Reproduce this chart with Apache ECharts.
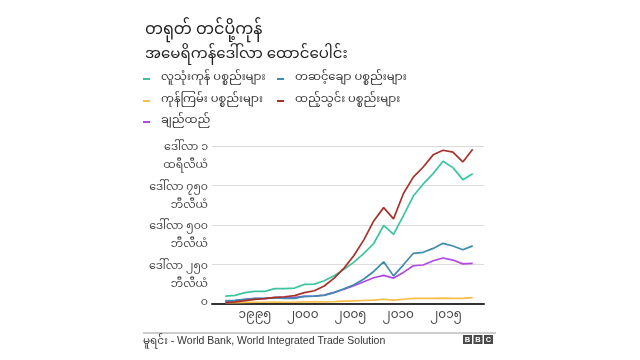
<!DOCTYPE html>
<html><head><meta charset="utf-8">
<script src="https://cdn.jsdelivr.net/npm/echarts@6.0.0/dist/echarts.min.js"></script>
<style>html,body{margin:0;padding:0;background:#fff}#c{width:640px;height:360px}</style>
</head><body><div id="c"></div>
<script>
const years = [1992,1993,1994,1995,1996,1997,1998,1999,2000,2001,2002,2003,2004,2005,2006,2007,2008,2009,2010,2011,2012,2013,2014,2015,2016,2017];
const consumerGoods = [50,55,72,80,80,97,97,101,124,126,147,179,219,265,320,383,497,440,560,683,760,825,903,863,787,825];
const intermediateGoods = [21,23,29,36,36,38,36,36,48,50,55,72,97,122,158,206,267,178,248,321,327,352,384,367,343,368];
const rawMaterials = [8,9,10,11,11,12,11,11,13,13,13,15,18,20,22,24,30,24,30,35,35,36,37,36,35,40];
const capitalGoods = [8,13,21,29,34,42,46,53,72,84,114,164,227,307,406,526,610,539,699,803,867,944,973,961,899,979];
const textiles = [17,21,29,34,36,40,40,42,48,50,57,74,93,116,141,166,181,164,200,242,247,274,291,278,254,257];

const seriesNames = ['လူသုံးကုန် ပစ္စည်းများ','တဆင့်ချော ပစ္စည်းများ','ကုန်ကြမ်း ပစ္စည်းများ','ထည့်သွင်း ပစ္စည်းများ','ချည်ထည်'];
const xTickYears = [1995,2000,2005,2010,2015];
const xTickLabels = ['၁၉၉၅','၂၀၀၀','၂၀၀၅','၂၀၁၀','၂၀၁၅'];
const yTickValues = [0,250,500,750,1000];
const yTickLabels = ['၀','ဒေါ်လာ ၂၅၀\nဘီလီယံ','ဒေါ်လာ ၅၀၀\nဘီလီယံ','ဒေါ်လာ ၇၅၀\nဘီလီယံ','ဒေါ်လာ ၁\nထရီလီယံ'];
const titleText = 'တရုတ် တင်ပို့ကုန်';
const subtitleText = 'အမေရိကန်ဒေါ်လာ ထောင်ပေါင်း';
const sourceText = 'မူရင်း - World Bank, World Integrated Trade Solution';

const FONT = "'Noto Sans Myanmar','Padauk','Myanmar Text','Noto Sans',sans-serif";
const colors = {green:'#3cc4a0', blue:'#3f8bad', orange:'#f9be45', red:'#a8312a', purple:'#b347e6'};

const chart = echarts.init(document.getElementById('c'), null, {renderer:'canvas'});
const zip = arr => years.map((y,i)=>[y, arr[i]]);
function legendAt(name, left, top){
  return {show:true, data:[name], left:left, top:top, padding:0, orient:'vertical', icon:'rect', itemWidth:7, itemHeight:2,
    textStyle:{fontSize:11.5, color:'#333', fontFamily:FONT, lineHeight:16, padding:[0,0,0,6]}, selectedMode:false};
}
const option = {
  animation:false,
  backgroundColor:'#fff',
  textStyle:{fontFamily:FONT},
  title:[
    {text:titleText, left:145, top:24, padding:0, textStyle:{fontSize:16, fontWeight:'normal', color:'#222', fontFamily:FONT}},
    {text:subtitleText, left:145, top:49, padding:0, textStyle:{fontSize:15, fontWeight:'normal', color:'#222', fontFamily:FONT}}
  ],
  legend:[
    legendAt(seriesNames[0],143,71),
    legendAt(seriesNames[2],143,93),
    legendAt(seriesNames[4],143,114),
    legendAt(seriesNames[1],277,71),
    legendAt(seriesNames[3],277,93)
  ],
  grid:{left:212, top:146, width:272, height:158, containLabel:false},
  xAxis:[
    {type:'value', min:1990.66, max:2018.14, axisLine:{show:true, onZero:true, lineStyle:{color:'#333', width:2}},
      axisTick:{show:false}, axisLabel:{show:false}, splitLine:{show:false}},
    {type:'value', position:'bottom', min:1990.5, max:2018.98, axisLine:{show:false}, axisTick:{show:false}, splitLine:{show:false},
      axisLabel:{show:true, customValues:xTickYears, margin:7, fontSize:12, color:'#444', fontFamily:FONT,
        formatter:v=>xTickLabels[xTickYears.indexOf(v)]}}
  ],
  yAxis:[
    {type:'value', min:0, max:1000, interval:250,
      axisLine:{show:false}, axisTick:{show:false}, axisLabel:{show:false},
      splitLine:{show:true, lineStyle:{color:'#dcdcdc', width:1}}},
    {type:'category', data:yTickLabels, boundaryGap:false, position:'left',
      axisLine:{show:false}, axisTick:{show:false}, splitLine:{show:false},
      axisLabel:{interval:0, margin:4, fontSize:11, color:'#444', align:'right', fontFamily:FONT,
        rich:{s:{lineHeight:24, fontSize:11}, a:{lineHeight:18, fontSize:11, color:'#444', align:'right', fontFamily:FONT}},
        formatter:(v,i)=> i===0 ? '{a|'+v+'}' : '{s| }\n' + v.split('\n').map(t=>'{a|'+t+'}').join('\n')}}
  ],
  series:[
    {name:seriesNames[2], type:'line', data:zip(rawMaterials), color:colors.orange},
    {name:seriesNames[4], type:'line', data:zip(textiles), color:colors.purple},
    {name:seriesNames[1], type:'line', data:zip(intermediateGoods), color:colors.blue},
    {name:seriesNames[0], type:'line', data:zip(consumerGoods), color:colors.green},
    {name:seriesNames[3], type:'line', data:zip(capitalGoods), color:colors.red}
  ].map(s=>Object.assign(s,{xAxisIndex:0, yAxisIndex:0, showSymbol:false, symbol:'none', lineStyle:{width:1.7}, emphasis:{disabled:true}})),
  graphic:[
    {type:'line', shape:{x1:143, y1:333, x2:496, y2:333}, style:{stroke:'#999', lineWidth:1}},
    {type:'text', left:143, top:336, style:{text:sourceText, fontSize:10.5, fill:'#333', fontFamily:"'Liberation Sans','Noto Sans Myanmar',Arial,sans-serif"}},
    {type:'group', left:463, top:335, children:[
      {type:'rect', shape:{x:0,y:0,width:9,height:9}, style:{fill:'#4a4a4a'}},
      {type:'rect', shape:{x:10.5,y:0,width:9,height:9}, style:{fill:'#4a4a4a'}},
      {type:'rect', shape:{x:21,y:0,width:9,height:9}, style:{fill:'#4a4a4a'}},
      {type:'text', x:4.5, y:5, style:{text:'B', fill:'#fff', fontSize:7.5, fontWeight:'bold', align:'center', verticalAlign:'middle', fontFamily:"'Liberation Sans',Arial"}},
      {type:'text', x:15, y:5, style:{text:'B', fill:'#fff', fontSize:7.5, fontWeight:'bold', align:'center', verticalAlign:'middle', fontFamily:"'Liberation Sans',Arial"}},
      {type:'text', x:25.5, y:5, style:{text:'C', fill:'#fff', fontSize:7.5, fontWeight:'bold', align:'center', verticalAlign:'middle', fontFamily:"'Liberation Sans',Arial"}}
    ]}
  ]
};
chart.setOption(option);
</script></body></html>
